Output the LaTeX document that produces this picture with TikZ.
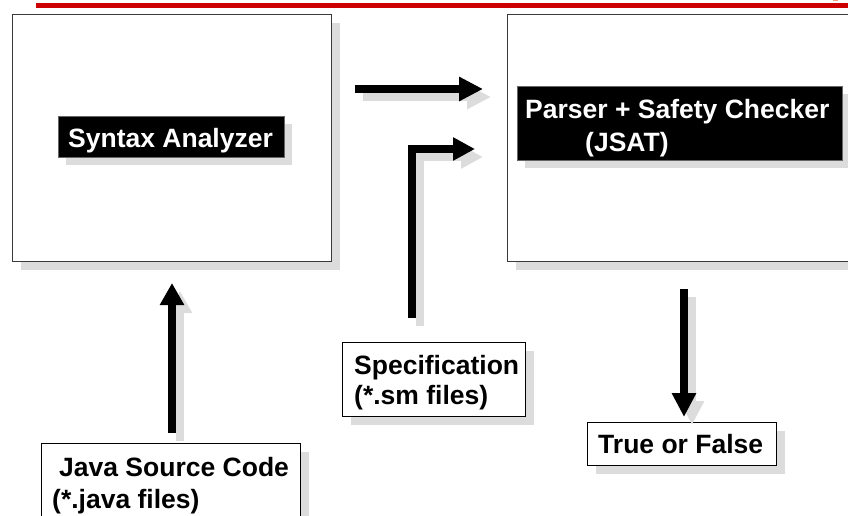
\documentclass[tikz,border=0pt]{standalone}
\usepackage{fontspec}
\setmainfont{Liberation Sans}
\usetikzlibrary{arrows.meta,shadows}

\definecolor{shade}{HTML}{DCDCDC}
\definecolor{barred}{HTML}{CC0000}
\definecolor{framegray}{HTML}{3A3A3A}
\definecolor{tinyorange}{HTML}{F2A080}

\tikzset{
  dropped/.style={drop shadow={shadow xshift=8pt, shadow yshift=-8pt, fill=shade, opacity=1}},
  panel/.style={draw=framegray, line width=1.4pt, fill=white, inner sep=0pt,
                anchor=north west, dropped},
  tagbox/.style={draw=black!60, line width=0.6pt, fill=black, inner sep=0pt,
                 anchor=north west, dropped},
  filebox/.style={draw=black, line width=1.2pt, fill=white, inner sep=0pt,
                  anchor=north west, dropped},
  lbl/.style={font=\bfseries\fontsize{26.5}{30}\selectfont, inner sep=0pt, anchor=base west},
  flowarrow/.style={line width=7.5pt, line cap=butt, line join=miter,
                    -{Triangle[length=24pt,width=23pt]}},
  flowshadow/.style={flowarrow, draw=shade, transform canvas={shift={(8pt,-8pt)}}},
}

\begin{document}
\begin{tikzpicture}[x=1pt, y=-1pt]
\useasboundingbox (0,0) rectangle (848,516);
\clip (0,0) rectangle (848,516);

% top rule
\fill[barred] (36,3.3) rectangle (848,8);
\fill[tinyorange] (833,0) rectangle (838,1.4);

% the two stage panels
\node[panel, minimum width=319pt, minimum height=247pt] (synpanel) at (12,14) {};
\node[panel, minimum width=363pt, minimum height=247pt] (parpanel) at (507,14) {};

% black title tags
\node[tagbox, minimum width=226pt, minimum height=41pt] (syntag) at (58,116) {};
\node[lbl, text=white] (syntxt) at (68,147) {Syntax Analyzer};

\node[tagbox, minimum width=325pt, minimum height=74pt] (partag) at (517,86) {};
\node[lbl, text=white] (partxt1) at (525,118) {Parser + Safety Checker};
\node[lbl, text=white] (partxt2) at (585,151) {(JSAT)};

% input and output boxes
\node[filebox, minimum width=259pt, minimum height=90pt] (javabox) at (41,443) {};
\node[lbl] (javatxt1) at (59,476) {Java Source Code};
\node[lbl] (javatxt2) at (52,508) {(*.java files)};

\node[filebox, minimum width=183pt, minimum height=74pt] (specbox) at (342,342) {};
\node[lbl] (spectxt1) at (354,374) {Specification};
\node[lbl] (spectxt2) at (354,404) {(*.sm files)};

\node[filebox, minimum width=189pt, minimum height=43pt] (tfbox) at (587,422) {};
\node[lbl] (tftxt) at (598,453) {True or False};

% arrow end points
\coordinate (synout) at (355,89);
\coordinate (parin1) at (483,89);
\coordinate (specout) at (412,318);
\coordinate (bend) at (412,149);
\coordinate (parin2) at (475,149);
\coordinate (javaout) at (172,433);
\coordinate (synin) at (172,283);
\coordinate (parout) at (684,289);
\coordinate (tfin) at (684,417);

% arrow shadows
\draw[flowshadow] (synout) -- (parin1);
\draw[flowshadow, -{Triangle[length=22pt,width=22pt]}] (specout) -- (bend) -- (parin2);
\draw[flowshadow, -{Triangle[length=22pt,width=23pt]}] (javaout) -- (synin);
\draw[flowshadow] (parout) -- (tfin);

% arrows
\draw[flowarrow] (synout) -- (parin1);
\draw[flowarrow, -{Triangle[length=22pt,width=22pt]}] (specout) -- (bend) -- (parin2);
\draw[flowarrow, -{Triangle[length=22pt,width=23pt]}] (javaout) -- (synin);
\draw[flowarrow] (parout) -- (tfin);
\end{tikzpicture}
\end{document}
